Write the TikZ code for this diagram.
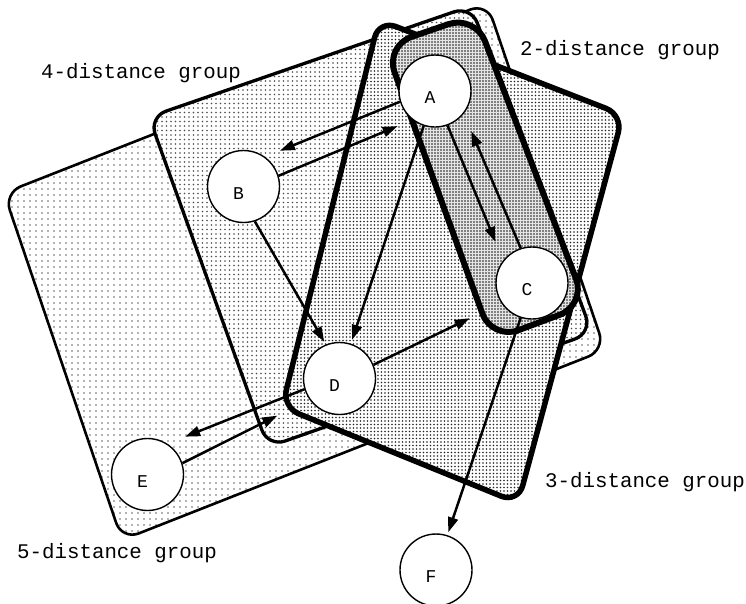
\documentclass[tikz,border=0pt]{standalone}
\usepackage{fontspec}
\setmonofont{Liberation Mono}
\usetikzlibrary{arrows.meta,patterns.meta}

\begin{document}
\begin{tikzpicture}[x=1pt,y=-1pt,
  grpfive/.style={draw, line width=2.6pt, rounded corners=18pt,
    preaction={fill=white}, pattern={Dots[distance=6pt,radius=0.8pt]}, pattern color=black!60},
  grpfour/.style={draw, line width=3.3pt, rounded corners=18pt,
    preaction={fill=white}, pattern={Dots[distance=4.5pt,radius=0.8pt]}, pattern color=black!70},
  grpthree/.style={draw, line width=5.5pt, rounded corners=18pt,
    preaction={fill=white}, pattern={Dots[distance=3.5pt,radius=0.8pt]}, pattern color=black!85},
  grptwo/.style={draw, line width=6pt, rounded corners=28pt,
    preaction={fill=black!10}, pattern={Dots[distance=3pt,radius=0.8pt]}, pattern color=black!90},
  vert/.style={circle, draw, line width=1.4pt, fill=white, minimum size=72pt, inner sep=0pt},
  letter/.style={font=\ttfamily\fontsize{18}{20}\selectfont, inner sep=0pt, xshift=-5pt, yshift=-7pt},
  link/.style={line width=2.5pt, -{Triangle[length=15pt,width=10pt]}},
  grplabel/.style={font=\ttfamily\fontsize{20.8}{24}\selectfont, inner sep=0pt},
]
\useasboundingbox (0,0) rectangle (746,603);

% distance groups, widest first
\draw[grpfive]  (4,193)   -- (487,3)   -- (605,350) -- (122,540) -- cycle;
\draw[grpfour]  (149,117) -- (471,6)   -- (592,333) -- (268,447) -- cycle;
\draw[grpthree] (379,20)  -- (623,115) -- (518,503) -- (282,407) -- cycle;
\draw[grptwo]   (385,46)  -- (475,15)  -- (586,305) -- (492,340) -- cycle;

% group captions
\node[grplabel] (lab4) at (141,73.5) {4-distance group};
\node[grplabel] (lab2) at (620,50)   {2-distance group};
\node[grplabel] (lab3) at (645,482)  {3-distance group};
\node[grplabel] (lab5) at (117,553.5) {5-distance group};

% vertices
\node[vert, label={[letter]center:A}] (A) at (435,91) {};
\node[vert, label={[letter]center:B}] (B) at (243.5,186.5) {};
\node[vert, label={[letter]center:C}] (C) at (532,283) {};
\node[vert, label={[letter]center:D}] (D) at (339.5,378.5) {};
\node[vert, label={[letter]center:E}] (E) at (147.5,474.5) {};
\node[vert, label={[letter]center:F}] (F) at (436,570) {};

% edges
\draw[link, shorten >=16pt] (A.197) -- (B.54);
\draw[link, shorten >=16pt] (B.17)  -- (A.232);
\draw[link, shorten >=20pt] (A.290) -- (C.142);
\draw[link, shorten >=19pt] (C.108) -- (A.322);
\draw[link, shorten >=3pt]  (B.288) -- (D.112);
\draw[link, shorten >=4pt]  (A.252) -- (D.72);
\draw[link, shorten >=35pt] (D.22)  -- (C.213);
\draw[link, shorten >=19pt] (D.197) -- (E.57);
\draw[link, shorten >=36pt] (E.18)  -- (D.215);
\draw[link, shorten >=3pt]  (C.252) -- (F.72);
\end{tikzpicture}
\end{document}
